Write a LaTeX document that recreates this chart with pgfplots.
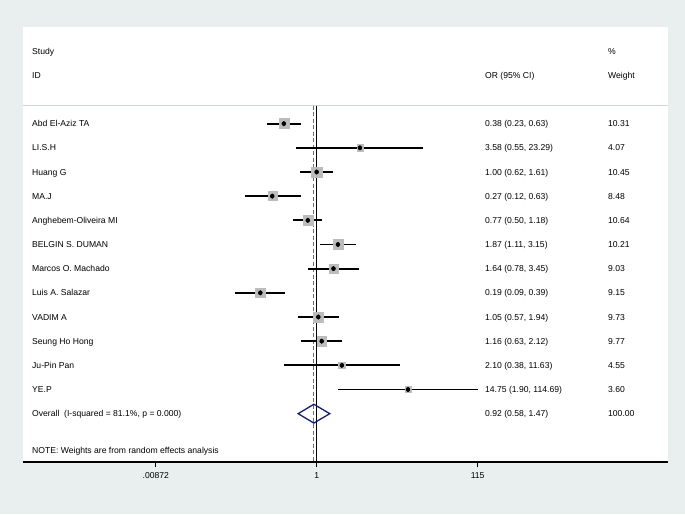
\documentclass[border=0pt]{standalone}
\usepackage{fontspec}
\setmainfont{Liberation Sans}
\usepackage{pgfplots}
\pgfplotsset{compat=1.18}
\usepackage{pgfplotstable}

\definecolor{bgpanel}{RGB}{233,238,238}
\definecolor{boxgray}{RGB}{188,188,188}
\definecolor{refred}{RGB}{195,70,90}
\definecolor{dianavy}{RGB}{20,30,120}
\definecolor{sepgray}{RGB}{205,212,212}

% row = vertical slot (12 = first study), or / lo / hi = OR and 95% CI, w = % weight
\pgfplotstableread{
row or    lo   hi     w
12  0.38  0.23 0.63   10.31
11  3.58  0.55 23.29  4.07
10  1.00  0.62 1.61   10.45
9   0.27  0.12 0.63   8.48
8   0.77  0.50 1.18   10.64
7   1.87  1.11 3.15   10.21
6   1.64  0.78 3.45   9.03
5   0.19  0.09 0.39   9.15
4   1.05  0.57 1.94   9.73
3   1.16  0.63 2.12   9.77
2   2.10  0.38 11.63  4.55
1   14.75 1.90 114.69 3.60
}\studies

% text columns (x in data units of the log axis)
\newcommand{\studyrow}[4]{%
  \node[txt] at (axis cs:2.27e-4,#1) {#2};
  \node[txt] at (axis cs:142.6,#1) {#3};
  \node[txt] at (axis cs:5355,#1) {#4};
}

\begin{document}
\begin{tikzpicture}[x=1pt,y=1pt,
  txt/.style={anchor=base west, inner sep=0pt, yshift=-3.1pt,
              font=\fontsize{8.6}{10}\selectfont}]
\fill[bgpanel] (0,0) rectangle (685,514);
\begin{axis}[
  at={(23pt,52pt)}, anchor=south west,
  scale only axis, width=645pt, height=435pt,
  xmode=log, xmin=1.742e-4, xmax=3.141e4,
  ymin=-2, ymax=16,
  axis background/.style={fill=white},
  axis x line*=bottom, axis y line=none,
  x axis line style={line width=1.1pt},
  xtick={0.00872,1,115}, xticklabels={.00872,1,115},
  minor x tick num=0, xminorticks=false,
  tick align=outside, major tick length=5pt,
  every tick/.style={black, line width=1.1pt},
  tick label style={font=\fontsize{8.6}{10}\selectfont},
  xticklabel style={yshift=-2pt},
  /pgf/number format/assume math mode=true,
  clip=false,
]
  % separator under the header
  \draw[sepgray, line width=1pt] (rel axis cs:0,0.8192) -- (rel axis cs:1,0.8192);

  % weight boxes, area proportional to weight
  \addplot[only marks, mark=square*, boxgray, scatter, point meta=\thisrow{w},
    scatter/@pre marker code/.code={%
      \pgfmathfloattofixed{\pgfplotspointmeta}\let\wt=\pgfmathresult
      \pgfmathsetmacro\ms{1.557*sqrt(\wt)}%
      \scope[mark size=\ms pt]},
    scatter/@post marker code/.code={\endscope}]
    table[x=or, y=row] {\studies};

  % line of no effect and overall estimate
  \addplot[black, line width=1pt] coordinates {(1,12.745) (1,-2)};
  \addplot[refred, line width=1.1pt, dash pattern=on 4pt off 2.5pt]
    coordinates {(0.92,12.745) (0.92,-2)};

  % confidence intervals
  \addplot[only marks, mark=none,
    error bars/.cd, x dir=both, x explicit, error mark=none,
    error bar style={black, line width=1.7pt}]
    table[x=or, y=row,
      x error plus expr=\thisrow{hi}-\thisrow{or},
      x error minus expr=\thisrow{or}-\thisrow{lo}] {\studies};

  % point estimates
  \addplot[only marks, mark=diamond*, mark size=2.3pt, black]
    table[x=or, y=row] {\studies};

  % overall diamond
  \addplot[dianavy, line width=1.3pt]
    coordinates {(0.58,0) (0.92,0.39) (1.47,0) (0.92,-0.39)} -- cycle;

  % headers
  \node[txt] at (axis cs:2.27e-4,15) {Study};
  \node[txt] at (axis cs:2.27e-4,14) {ID};
  \node[txt] at (axis cs:142.6,14) {OR (95\% CI)};
  \node[txt] at (axis cs:5355,15) {\%};
  \node[txt] at (axis cs:5355,14) {Weight};

  \studyrow{12}{Abd El-Aziz TA}{0.38 (0.23, 0.63)}{10.31}
  \studyrow{11}{LI.S.H}{3.58 (0.55, 23.29)}{4.07}
  \studyrow{10}{Huang G}{1.00 (0.62, 1.61)}{10.45}
  \studyrow{9}{MA.J}{0.27 (0.12, 0.63)}{8.48}
  \studyrow{8}{Anghebem-Oliveira MI}{0.77 (0.50, 1.18)}{10.64}
  \studyrow{7}{BELGIN S. DUMAN}{1.87 (1.11, 3.15)}{10.21}
  \studyrow{6}{Marcos O. Machado}{1.64 (0.78, 3.45)}{9.03}
  \studyrow{5}{Luis A. Salazar}{0.19 (0.09, 0.39)}{9.15}
  \studyrow{4}{VADIM A}{1.05 (0.57, 1.94)}{9.73}
  \studyrow{3}{Seung Ho Hong}{1.16 (0.63, 2.12)}{9.77}
  \studyrow{2}{Ju-Pin Pan}{2.10 (0.38, 11.63)}{4.55}
  \studyrow{1}{YE.P}{14.75 (1.90, 114.69)}{3.60}
  \studyrow{0}{Overall\ \ (I-squared = 81.1\%, p = 0.000)}{0.92 (0.58, 1.47)}{100.00}

  \node[txt] at (axis cs:2.27e-4,-1.53) {NOTE: Weights are from random effects analysis};
\end{axis}
\end{tikzpicture}
\end{document}
